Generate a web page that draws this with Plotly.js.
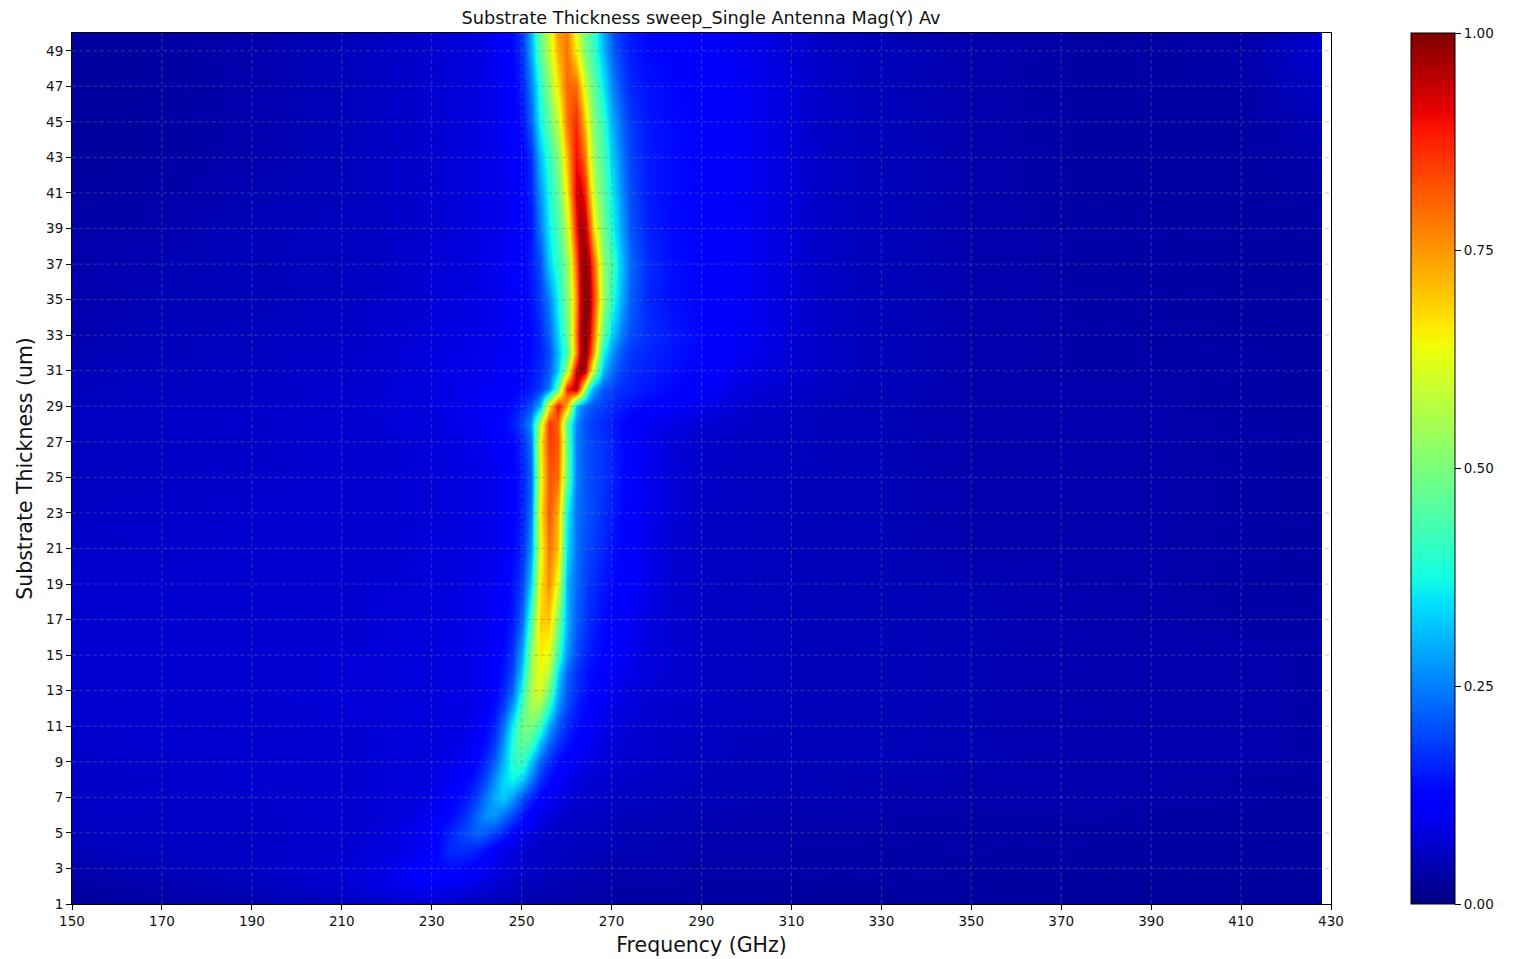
<!DOCTYPE html>
<html>
<head>
<meta charset="utf-8">
<script src="https://cdn.plot.ly/plotly-3.0.1.min.js"></script>
<style>html,body{margin:0;padding:0;background:#fff}#chart{width:1521px;height:959px}</style>
</head>
<body>
<div id="chart"></div>
<script>
const frequencyGHz = [150,170,190,210,220, 226,230,234,238,240, 242,244,246,248,250, 252,254,256,258,260, 262,263,264,265,266, 268,270,272,274,278, 284,292,300,320,350, 380,410,428];
const thicknessUm = [1,2,3,4,5,6,7,8,9,10,11,12,13,14,15,17,19,21,23,25,27,28,29,30,31,32,33,35,37,39,41,43,45,47,49,50];
const xTickValues = [150,170,190,210,230,250,270,290,310,330,350,370,390,410,430];
const yTickValues = [1,3,5,7,9,11,13,15,17,19,21,23,25,27,29,31,33,35,37,39,41,43,45,47,49];
const colorbarTicks = [0,0.25,0.5,0.75,1];

const y01 = [.025,.03,.04,.05,.06, .065,.065,.06,.055,.05, .05,.045,.045,.04,.04, .04,.035,.035,.035,.03, .03,.03,.03,.03,.03, .03,.03,.03,.03,.03, .03,.03,.03,.025,.025, .025,.025,.025];
const y02 = [.03,.04,.05,.07,.09, .10,.10,.095,.085,.08, .075,.07,.065,.06,.055, .05,.05,.045,.045,.04, .04,.04,.04,.04,.04, .04,.035,.035,.035,.035, .035,.03,.03,.03,.03, .025,.025,.025];
const y03 = [.04,.05,.06,.075,.09, .115,.13,.135,.125,.115, .10,.09,.08,.075,.07, .065,.06,.055,.05,.05, .045,.045,.045,.045,.045, .04,.04,.04,.04,.04, .04,.035,.035,.035,.03, .03,.03,.03];
const y04 = [.05,.055,.06,.07,.08, .09,.115,.165,.165,.15, .13,.105,.09,.08,.07, .065,.06,.06,.055,.055, .05,.05,.05,.05,.05, .05,.05,.045,.045,.045, .04,.04,.04,.035,.035, .03,.03,.03];
const y05 = [.055,.06,.06,.07,.08, .095,.115,.16,.20,.225, .21,.185,.155,.125,.10, .085,.07,.065,.06,.06, .055,.055,.055,.055,.055, .05,.05,.05,.045,.045, .045,.04,.04,.035,.035, .03,.03,.03];
const y06 = [.06,.06,.065,.07,.075, .085,.10,.125,.18,.225, .27,.27,.235,.19,.145, .115,.095,.08,.07,.065, .06,.06,.06,.06,.06, .055,.055,.05,.05,.05, .045,.045,.04,.04,.035, .035,.03,.03];
const y07 = [.06,.065,.065,.07,.075, .08,.09,.115,.15,.185, .24,.30,.33,.28,.21, .16,.125,.105,.09,.08, .07,.07,.07,.07,.065, .065,.06,.06,.055,.055, .05,.05,.045,.045,.04, .04,.035,.03];
const y08 = [.06,.065,.07,.07,.075, .08,.085,.10,.13,.155, .20,.27,.34,.37,.33, .24,.17,.135,.11,.095, .08,.08,.075,.07,.07, .07,.065,.065,.06,.06, .055,.05,.05,.045,.04, .04,.035,.03];
const y09 = [.065,.065,.07,.07,.075, .08,.085,.09,.105,.13, .165,.22,.31,.40,.42, .32,.22,.165,.135,.115, .10,.095,.09,.085,.085, .08,.075,.07,.07,.065, .06,.055,.05,.05,.045, .04,.04,.035];
const y10 = [.065,.07,.07,.07,.075, .08,.08,.085,.095,.115, .14,.185,.28,.40,.47, .43,.31,.22,.17,.14, .12,.115,.105,.10,.09, .085,.08,.075,.07,.065, .06,.055,.05,.05,.045, .04,.04,.035];
const y11 = [.07,.07,.07,.075,.075, .08,.08,.085,.09,.10, .125,.16,.24,.37,.49, .50,.42,.29,.21,.165, .14,.13,.12,.11,.10, .09,.085,.08,.075,.07, .065,.06,.055,.05,.045, .04,.04,.035];
const y12 = [.07,.07,.07,.075,.075, .08,.08,.085,.09,.095, .11,.14,.19,.29,.44, .56,.53,.39,.26,.19, .155,.14,.13,.12,.11, .10,.09,.085,.08,.07, .065,.06,.055,.05,.045, .04,.04,.035];
const y13 = [.07,.07,.07,.075,.075, .08,.08,.085,.09,.095, .10,.125,.16,.23,.39, .56,.62,.48,.30,.21, .17,.155,.145,.13,.12, .11,.10,.09,.085,.075, .07,.06,.055,.05,.045, .04,.04,.035];
const y14 = [.07,.07,.07,.075,.075, .08,.08,.085,.09,.095, .10,.115,.145,.20,.33, .54,.64,.56,.34,.22, .175,.16,.145,.135,.13, .115,.105,.095,.09,.08, .07,.06,.055,.05,.045, .04,.04,.035];
const y15 = [.07,.07,.07,.075,.075, .08,.08,.085,.09,.095, .10,.11,.135,.18,.29, .52,.66,.62,.42,.27, .20,.18,.16,.15,.14, .125,.11,.10,.095,.08, .07,.06,.055,.05,.045, .04,.04,.035];
const y17 = [.07,.07,.07,.07,.075, .08,.08,.085,.09,.09, .10,.105,.12,.15,.22, .43,.69,.70,.50,.30, .22,.20,.18,.165,.155, .135,.12,.11,.10,.085, .07,.06,.055,.05,.045, .04,.035,.035];
const y19 = [.07,.07,.07,.07,.075, .075,.08,.08,.085,.09, .095,.10,.115,.14,.18, .33,.66,.76,.62,.30, .23,.21,.19,.175,.165, .145,.13,.12,.11,.09, .07,.06,.055,.05,.045, .04,.035,.03];
const y21 = [.065,.065,.07,.07,.07, .075,.08,.08,.085,.085, .09,.095,.105,.13,.16, .27,.62,.79,.70,.35, .24,.22,.20,.19,.18, .16,.14,.125,.115,.09, .07,.06,.055,.05,.04, .04,.035,.03];
const y23 = [.06,.065,.07,.07,.07, .075,.075,.08,.085,.085, .09,.095,.10,.12,.15, .24,.65,.82,.72,.37, .24,.225,.21,.20,.19, .17,.15,.13,.12,.095, .075,.06,.055,.05,.04, .04,.035,.03];
const y25 = [.055,.06,.065,.07,.07, .075,.075,.08,.085,.085, .09,.095,.105,.12,.15, .22,.62,.82,.80,.47, .25,.23,.21,.20,.19, .175,.155,.135,.12,.095, .075,.06,.055,.05,.04, .04,.035,.03];
const y27 = [.055,.06,.065,.07,.07, .075,.08,.085,.09,.095, .10,.11,.12,.13,.16, .24,.64,.85,.82,.48, .25,.23,.21,.20,.19, .175,.155,.135,.12,.095, .075,.065,.06,.05,.04, .04,.035,.03];
const y28 = [.055,.06,.065,.07,.075, .08,.08,.085,.095,.10, .11,.12,.13,.15,.19, .27,.58,.86,.80,.45, .26,.23,.20,.19,.18, .165,.15,.13,.12,.10, .085,.07,.06,.05,.04, .04,.035,.03];
const y29 = [.055,.06,.065,.07,.075, .08,.085,.09,.095,.10, .11,.115,.125,.14,.16, .20,.30,.66,.90,.72, .33,.27,.23,.215,.20, .185,.165,.15,.14,.125, .11,.09,.07,.05,.04, .04,.035,.03];
const y30 = [.05,.055,.06,.07,.075, .08,.085,.09,.095,.10, .10,.105,.11,.12,.13, .15,.18,.25,.47,.88, .97,.80,.55,.38,.28, .21,.19,.17,.16,.145, .125,.105,.08,.055,.04, .04,.035,.03];
const y31 = [.05,.055,.06,.065,.07, .08,.085,.09,.09,.095, .10,.10,.105,.11,.125, .14,.165,.21,.33,.56, .93,.99,.96,.76,.55, .31,.23,.19,.17,.155, .135,.115,.09,.055,.04, .035,.035,.03];
const y32 = [.045,.05,.055,.065,.07, .08,.085,.085,.09,.09, .095,.10,.10,.11,.12, .135,.155,.20,.31,.44, .76,.94,1,.90,.72, .38,.27,.21,.175,.16, .14,.12,.095,.055,.04, .035,.035,.03];
const y33 = [.04,.05,.055,.06,.07, .075,.08,.085,.085,.09, .09,.095,.10,.105,.115, .13,.16,.22,.34,.47, .78,.95,1,.95,.78, .47,.33,.25,.20,.17, .145,.125,.10,.055,.04, .035,.03,.03];
const y35 = [.04,.045,.05,.055,.065, .07,.075,.08,.085,.085, .09,.095,.10,.11,.12, .14,.18,.25,.37,.50, .75,.93,1,.98,.84, .55,.40,.30,.22,.16, .135,.12,.10,.055,.04, .035,.03,.03];
const y37 = [.04,.045,.05,.055,.06, .07,.075,.08,.08,.085, .09,.095,.10,.11,.12, .15,.20,.33,.41,.52, .80,.95,.99,.95,.80, .53,.43,.32,.23,.165, .135,.12,.10,.055,.04, .035,.03,.03];
const y39 = [.035,.04,.05,.055,.06, .065,.07,.075,.08,.085, .09,.09,.095,.105,.12, .145,.24,.36,.44,.58, .88,.97,.96,.84,.66, .49,.38,.29,.21,.155, .13,.12,.10,.055,.04, .035,.03,.03];
const y41 = [.03,.035,.045,.05,.06, .065,.07,.075,.08,.085, .09,.09,.095,.105,.125, .155,.27,.38,.47,.66, .92,.94,.88,.73,.58, .46,.36,.27,.20,.15, .13,.12,.10,.055,.04, .03,.03,.035];
const y43 = [.025,.03,.04,.05,.06, .065,.07,.075,.08,.085, .09,.09,.10,.11,.12, .17,.31,.41,.51,.72, .90,.86,.78,.65,.53, .44,.33,.25,.19,.15, .13,.12,.10,.055,.04, .03,.03,.04];
const y45 = [.025,.03,.04,.05,.06, .065,.07,.075,.08,.085, .09,.095,.105,.12,.135, .22,.37,.47,.59,.79, .87,.80,.70,.60,.50, .41,.30,.23,.18,.145, .13,.12,.10,.055,.04, .03,.03,.05];
const y47 = [.025,.03,.04,.05,.06, .065,.07,.075,.08,.085, .09,.095,.11,.125,.15, .25,.40,.52,.67,.80, .80,.71,.60,.53,.46, .36,.26,.20,.16,.14, .125,.115,.10,.055,.04, .03,.035,.06];
const y49 = [.025,.03,.04,.05,.06, .065,.07,.075,.08,.085, .09,.10,.11,.13,.17, .29,.46,.58,.73,.79, .66,.58,.51,.46,.41, .31,.22,.18,.15,.13, .12,.11,.095,.055,.04, .03,.035,.07];
const y50 = [.025,.03,.04,.05,.06, .065,.07,.075,.08,.085, .09,.10,.115,.135,.175, .30,.47,.60,.75,.78, .63,.56,.50,.45,.40, .30,.21,.17,.15,.13, .12,.11,.095,.055,.04, .03,.035,.07];
const magnitude = [y01,y02,y03,y04,y05,y06,y07,y08,y09,y10,y11,y12,y13,y14,y15,y17,y19,y21,y23,y25,y27,y28,y29,y30,y31,y32,y33,y35,y37,y39,y41,y43,y45,y47,y49,y50];

const jet = [
  [0,'rgb(0,0,128)'],[0.11,'rgb(0,0,255)'],[0.125,'rgb(0,0,255)'],[0.34,'rgb(0,219,255)'],
  [0.35,'rgb(0,229,247)'],[0.375,'rgb(20,255,226)'],[0.64,'rgb(239,255,8)'],[0.65,'rgb(247,246,0)'],
  [0.66,'rgb(255,236,0)'],[0.89,'rgb(255,19,0)'],[0.91,'rgb(232,0,0)'],[1,'rgb(127,0,0)']
];

const xRange = [150,430];
const yRange = [1,50];
const gridLine = {color:'rgba(125,125,125,0.42)', width:1, dash:'4px,3px'};
const font = 'DejaVu Sans, sans-serif';
const lastFreq = frequencyGHz[frequencyGHz.length-1];

const shapes = [
  {type:'rect', xref:'x', yref:'y', x0:lastFreq, x1:xRange[1], y0:yRange[0], y1:yRange[1], fillcolor:'#fff', line:{width:0}, layer:'above'}
];
xTickValues.slice(1,-1).forEach(v => shapes.push({type:'line', xref:'x', yref:'y', x0:v, x1:v, y0:yRange[0], y1:yRange[1], line:gridLine, layer:'above'}));
yTickValues.slice(1).forEach(v => shapes.push({type:'line', xref:'x', yref:'y', x0:xRange[0], x1:xRange[1], y0:v, y1:v, line:gridLine, layer:'above'}));

Plotly.newPlot('chart', [{
  type:'heatmap', x:frequencyGHz, y:thicknessUm, z:magnitude, zsmooth:'best',
  colorscale:jet, zmin:0, zmax:1,
  colorbar:{
    thickness:44, thicknessmode:'pixels', len:1, lenmode:'fraction',
    x:(1411-72)/1259, xref:'paper', xanchor:'left', xpad:0, y:0.5, yanchor:'middle', ypad:0,
    outlinecolor:'#000', outlinewidth:1, ticks:'outside', ticklen:6, tickcolor:'#000',
    tickmode:'array', tickvals:colorbarTicks, ticktext:colorbarTicks.map(v=>v.toFixed(2)),
    tickfont:{family:font,size:13.5,color:'#111'}
  }
}], {
  width:1521, height:959, autosize:false,
  margin:{l:72,r:190,t:33,b:55,pad:0},
  paper_bgcolor:'#fff', plot_bgcolor:'#fff',
  title:{text:'Substrate Thickness sweep_Single Antenna Mag(Y) Av', x:0.4996, xanchor:'center', xref:'paper', y:1-18/959, yanchor:'middle', font:{family:font,size:17.7,color:'#111'}},
  xaxis:{range:xRange, tickmode:'array', tickvals:xTickValues, ticks:'outside', ticklen:5, tickcolor:'#000',
    showline:true, linecolor:'#000', linewidth:1, mirror:true, showgrid:false, zeroline:false, automargin:false, layer:'above traces',
    tickfont:{family:font,size:13.5,color:'#111'},
    title:{text:'Frequency (GHz)', standoff:9, font:{family:font,size:20.5,color:'#111'}}},
  yaxis:{range:yRange, tickmode:'array', tickvals:yTickValues, ticks:'outside', ticklen:5, tickcolor:'#000',
    showline:true, linecolor:'#000', linewidth:1, mirror:true, showgrid:false, zeroline:false, automargin:false, layer:'above traces',
    tickfont:{family:font,size:13.5,color:'#111'},
    title:{text:'Substrate Thickness (um)', standoff:7, font:{family:font,size:20.5,color:'#111'}}},
  shapes:shapes
}, {displayModeBar:false, responsive:false});
</script>
</body>
</html>
